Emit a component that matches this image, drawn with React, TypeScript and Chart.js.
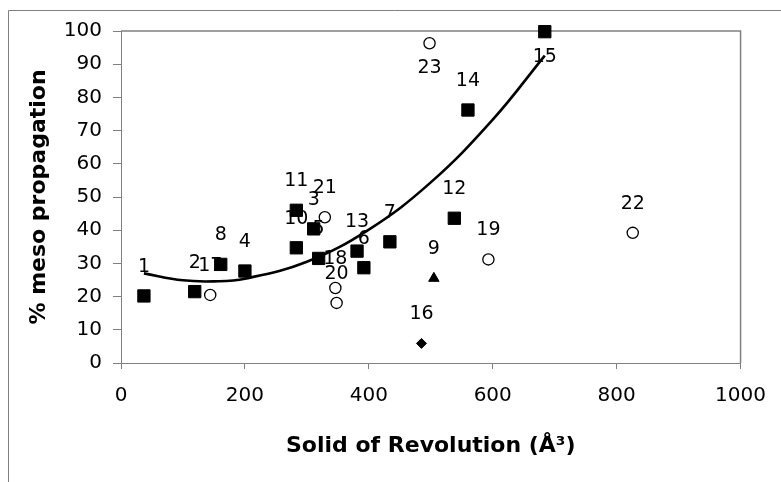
import React, { useEffect, useRef } from "react";
import { Chart, registerables } from "chart.js";

Chart.register(...registerables);

// Filled squares
const squareIds = ["1", "2", "3", "4", "5", "6", "7", "8", "10", "11", "12", "13", "14", "15"];
const squareX = [37, 119, 311, 200, 319, 392, 434, 161, 283, 283, 538, 381, 560, 684];
const squareY = [20.2, 21.5, 40.4, 27.7, 31.5, 28.7, 36.5, 29.7, 34.7, 46.0, 43.6, 33.7, 76.2, 99.8];

// Open circles
const circleIds = ["17", "18", "19", "20", "21", "22", "23"];
const circleX = [144, 346, 593, 348, 329, 826, 498];
const circleY = [20.5, 22.6, 31.2, 18.1, 43.9, 39.2, 96.3];

// Triangle
const triangleIds = ["9"];
const triangleX = [505];
const triangleY = [25.5];

// Diamond
const diamondIds = ["16"];
const diamondX = [485];
const diamondY = [5.9];

// Trend curve
const trendX = [37, 100, 150, 200, 300, 400, 500, 600, 684];
const trendY = [27.0, 24.9, 24.6, 25.4, 30.5, 40.2, 54.4, 73.3, 92.6];

const xTicks = [0, 200, 400, 600, 800, 1000];
const yTicks = [0, 10, 20, 30, 40, 50, 60, 70, 80, 90, 100];

const xTitle = "Solid of Revolution (Å³)";
const yTitle = "% meso propagation";

const FONT = "'DejaVu Sans', Verdana, sans-serif";
const GREY = "#808080";

const toPts = (xs: number[], ys: number[]) => xs.map((x, i) => ({ x, y: ys[i] }));

const labelPlugin = {
  id: "pointLabels",
  afterDatasetsDraw(chart: any) {
    const ctx = chart.ctx;
    ctx.save();
    ctx.font = `19px ${FONT}`;
    ctx.fillStyle = "#000";
    ctx.textAlign = "center";
    ctx.textBaseline = "middle";
    chart.data.datasets.forEach((ds: any, di: number) => {
      if (!ds.ids) return;
      const meta = chart.getDatasetMeta(di);
      meta.data.forEach((el: any, i: number) => {
        const v = ds.data[i].y;
        const dy = v > 95 ? 25 : -29;
        ctx.fillText(ds.ids[i], el.x, el.y + dy);
      });
    });
    ctx.restore();
  },
};

const framePlugin = {
  id: "frames",
  beforeDraw(chart: any) {
    const ctx = chart.ctx;
    ctx.save();
    ctx.fillStyle = "#fff";
    ctx.fillRect(0, 0, chart.width, chart.height);
    ctx.strokeStyle = GREY;
    ctx.lineWidth = 1;
    ctx.beginPath();
    ctx.moveTo(8.5, chart.height);
    ctx.lineTo(8.5, 10.5);
    ctx.lineTo(chart.width, 10.5);
    ctx.stroke();
    ctx.restore();
  },
  beforeDatasetsDraw(chart: any) {
    const { ctx, chartArea } = chart;
    ctx.save();
    ctx.strokeStyle = GREY;
    ctx.lineWidth = 1.5;
    ctx.beginPath();
    ctx.moveTo(chartArea.left, chartArea.top);
    ctx.lineTo(chartArea.right, chartArea.top);
    ctx.lineTo(chartArea.right, chartArea.bottom);
    ctx.stroke();
    ctx.restore();
  },
};

export default function App() {
  const ref = useRef<HTMLCanvasElement>(null);

  useEffect(() => {
    if (!ref.current) return;
    const chart = new Chart(ref.current, {
      type: "scatter",
      data: {
        datasets: [
          {
            ids: squareIds,
            data: toPts(squareX, squareY),
            pointStyle: "rect",
            pointRadius: 8.7,
            backgroundColor: "#000",
            borderColor: "#000",
            borderWidth: 1,
            clip: false,
          } as any,
          {
            ids: circleIds,
            data: toPts(circleX, circleY),
            pointStyle: "circle",
            pointRadius: 5.6,
            backgroundColor: "#fff",
            borderColor: "#000",
            borderWidth: 1.3,
            clip: false,
          } as any,
          {
            ids: triangleIds,
            data: toPts(triangleX, triangleY),
            pointStyle: "triangle",
            pointRadius: 6,
            backgroundColor: "#000",
            borderColor: "#000",
            borderWidth: 1,
            clip: false,
          } as any,
          {
            ids: diamondIds,
            data: toPts(diamondX, diamondY),
            pointStyle: "rectRot",
            pointRadius: 5,
            backgroundColor: "#000",
            borderColor: "#000",
            borderWidth: 1,
            clip: false,
          } as any,
          {
            data: toPts(trendX, trendY),
            showLine: true,
            pointRadius: 0,
            borderColor: "#000",
            borderWidth: 2.6,
            tension: 0.4,
            fill: false,
            clip: false,
          } as any,
        ],
      },
      options: {
        animation: false,
        responsive: false,
        devicePixelRatio: 1,
        layout: { padding: { left: 0, top: 31, right: 29, bottom: 0 } },
        plugins: {
          legend: { display: false },
          tooltip: { enabled: false },
        },
        scales: {
          x: {
            type: "linear",
            min: 0,
            max: 1000,
            afterBuildTicks: (s: any) => {
              s.ticks = xTicks.map((v) => ({ value: v }));
            },
            afterFit: (s: any) => {
              s.height = 119;
            },
            ticks: {
              font: { family: FONT, size: 20 },
              color: "#000",
              padding: 15,
              maxRotation: 0,
              autoSkip: false,
              callback: (v: any) => String(v),
            },
            grid: { drawOnChartArea: false, drawTicks: true, tickLength: 6, color: GREY },
            border: { display: true, color: GREY, width: 1 },
            title: {
              display: true,
              text: xTitle,
              color: "#000",
              font: { family: FONT, size: 22, weight: "bold" },
              padding: { top: 0, bottom: 23 },
            },
          },
          y: {
            type: "linear",
            min: 0,
            max: 100,
            afterBuildTicks: (s: any) => {
              s.ticks = yTicks.map((v) => ({ value: v }));
            },
            afterFit: (s: any) => {
              s.width = 121;
            },
            ticks: {
              font: { family: FONT, size: 20 },
              color: "#000",
              padding: 11,
              autoSkip: false,
              callback: (v: any) => String(v),
            },
            grid: { drawOnChartArea: false, drawTicks: true, tickLength: 8, color: GREY },
            border: { display: true, color: GREY, width: 1 },
            title: {
              display: true,
              text: yTitle,
              color: "#000",
              font: { family: FONT, size: 22, weight: "bold" },
              padding: { top: 26, bottom: 0 },
            },
          },
        },
      } as any,
      plugins: [framePlugin, labelPlugin],
    });
    return () => chart.destroy();
  }, []);

  return (
    <div style={{ position: "absolute", left: 0, top: 0, width: 781, height: 482 }}>
      <canvas ref={ref} width={781} height={482} style={{ display: "block" }} />
    </div>
  );
}
